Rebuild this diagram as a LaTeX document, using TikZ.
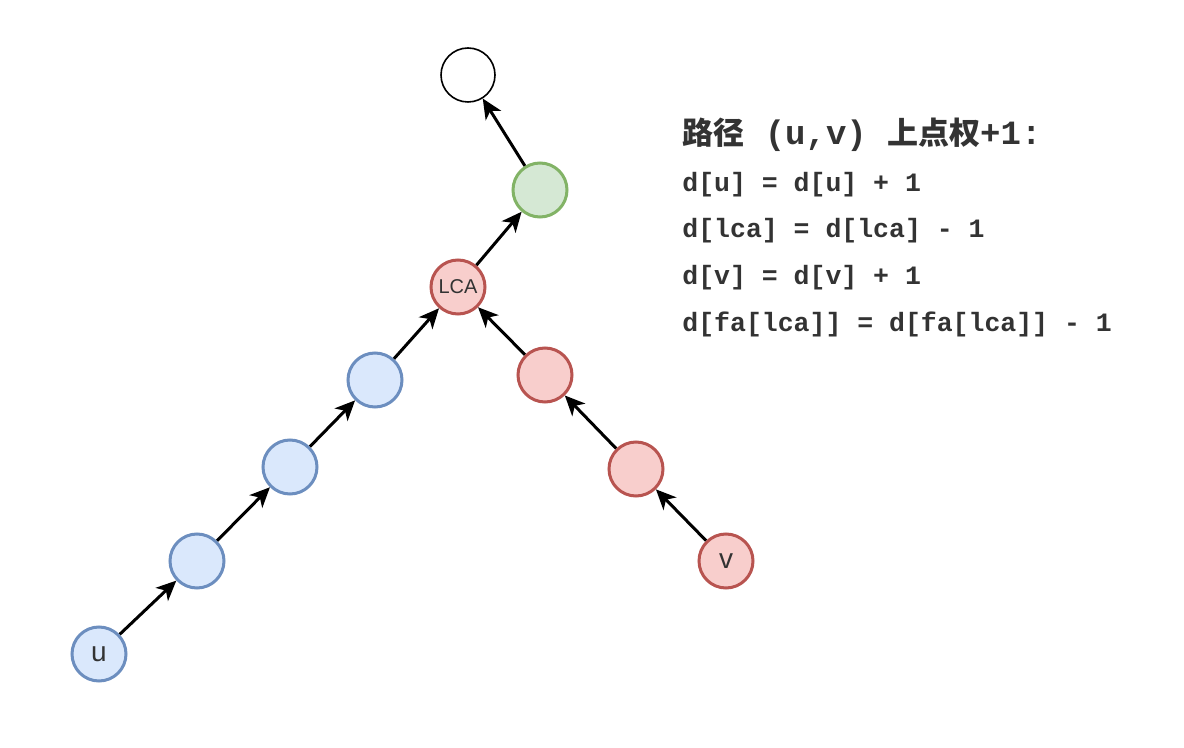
\documentclass[tikz,border=0pt]{standalone}
\usepackage{fontspec}
\setsansfont{Liberation Sans}
\setmonofont{Liberation Mono}
\newfontfamily\cjk{Noto Sans CJK SC}
\usetikzlibrary{
  positioning,
  arrows.meta}
\definecolor{ufillcolor}{RGB}{218,232,252}
\definecolor{ulinecolor}{RGB}{108,142,191}
\definecolor{vfillcolor}{RGB}{248,206,204}
\definecolor{vlinecolor}{RGB}{184,84,80}
\definecolor{fafillcolor}{RGB}{213,232,212}
\definecolor{falinecolor}{RGB}{130,179,102}
\definecolor{labelcolor}{RGB}{51,51,51}
\tikzset{
  %% treenode : common shape of every vertex
  treenode/.style={
    circle,
    minimum size=27pt,
    inner sep=0pt,
    text=labelcolor,
    font=\sffamily\fontsize{14}{14}\selectfont
  },
  %% upnode : vertex on the path from u
  upnode/.style={
    treenode,
    fill=ufillcolor,
    draw=ulinecolor,
    line width=1.5pt
  },
  %% vpnode : vertex on the path from v (and the lca)
  vpnode/.style={
    treenode,
    fill=vfillcolor,
    draw=vlinecolor,
    line width=1.5pt
  },
  %% fanode : father of the lca
  fanode/.style={
    treenode,
    fill=fafillcolor,
    draw=falinecolor,
    line width=1.5pt
  },
  %% topnode : the vertex above
  topnode/.style={
    treenode,
    fill=white,
    draw=black,
    line width=0.8pt
  },
  %% uplink : child to father
  uplink/.style={
    black,
    line width=1.5pt,
    -{Stealth[length=10pt, width=9pt, inset=2.8pt]}
  },
  %% titletext : heading of the formulas
  titletext/.style={
    anchor=base west,
    inner sep=0pt,
    text=labelcolor,
    font=\bfseries\fontsize{15.5}{18}\selectfont
  },
  %% eqtext : one line of formula
  eqtext/.style={
    anchor=base west,
    inner sep=0pt,
    text=labelcolor,
    font=\ttfamily\bfseries\fontsize{13.25}{16}\selectfont
  }
}
\newcommand{\titlemono}{\ttfamily\fontsize{17}{18}\selectfont}
\begin{document}
\begin{tikzpicture}
  [x=0.5pt,
  y=-0.5pt]
  \sffamily
  \useasboundingbox (0,0) rectangle (1184,748);

  %% Path from u
  \node (u) [upnode] at (99,654) {u};
  \node (ua) [upnode] at (197,561) {};
  \node (ub) [upnode] at (290,467) {};
  \node (uc) [upnode] at (375,380) {};

  %% Path from v
  \node (v) [vpnode] at (726,561) {v};
  \node (va) [vpnode] at (636,469) {};
  \node (vb) [vpnode] at (545,375) {};

  %% lca and above
  \node (lca) [vpnode, font=\sffamily\fontsize{10}{10}\selectfont]
  at (458,287) {LCA};
  \node (fa) [fanode] at (540,190) {};
  \node (top) [topnode] at (468,75) {};

  %% Connections
  \draw [uplink] (u) -- (ua);
  \draw [uplink] (ua) -- (ub);
  \draw [uplink] (ub) -- (uc);
  \draw [uplink] (uc) -- (lca);
  \draw [uplink] (v) -- (va);
  \draw [uplink] (va) -- (vb);
  \draw [uplink] (vb) -- (lca);
  \draw [uplink] (lca) -- (fa);
  \draw [uplink] (fa) -- (top);

  %% Formulas
  \node (title) [titletext] at (682,145) {%
    {\cjk 路径}{\titlemono\ (u,v)\ }{\cjk 上点权}{\titlemono +1:}};
  \node (equ) [eqtext] at (682,192) {d[u] = d[u] + 1};
  \node (eqlca) [eqtext] at (682,238) {d[lca] = d[lca] - 1};
  \node (eqv) [eqtext] at (682,285) {d[v] = d[v] + 1};
  \node (eqfa) [eqtext] at (682,332) {d[fa[lca]] = d[fa[lca]] - 1};

\end{tikzpicture}
\end{document}
